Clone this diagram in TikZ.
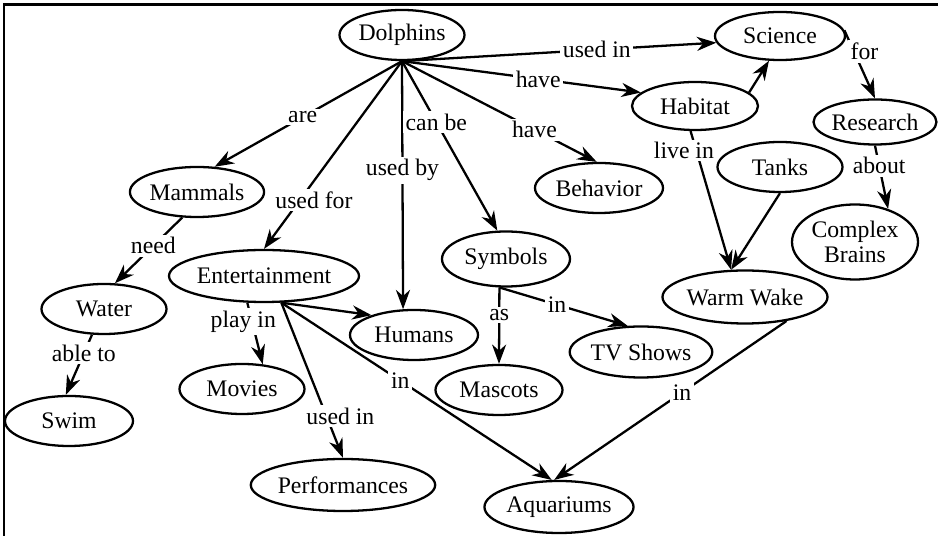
\documentclass[tikz,border=0pt]{standalone}
\usepackage{fontspec}
\setmainfont{Liberation Serif}
\usetikzlibrary{shapes.geometric,arrows.meta}

\begin{document}
\begin{tikzpicture}
  [x=0.02cm, y=-0.02cm,
   font=\fontsize{13.5}{14}\selectfont,
   concept/.style 2 args={draw, ellipse, line width=1.3pt, inner sep=0pt,
     minimum width={#1*0.02cm}, minimum height={#2*0.02cm}, align=center},
   link/.style={line width=1.3pt, -{Stealth[length=11pt, width=8pt, inset=3.5pt]}},
   plain/.style={line width=1.3pt},
   lbl/.style={fill=white, inner sep=1.5pt}]

  \useasboundingbox (0,0) rectangle (938,536);
  \draw [line width=1.7pt] (4,536) -- (4,5) -- (938,5);

  % concepts
  \node [concept={125}{50}] (dolphins) at (402,35) {Dolphins};
  \node [concept={130}{48}] (science) at (780,36) {Science};
  \node [concept={126}{48}] (habitat) at (695,106) {Habitat};
  \node [concept={107}{45}] (research) at (875,122) {Research};
  \node [concept={125}{50}] (tanks) at (780,167) {Tanks};
  \node [concept={128}{50}] (behavior) at (599,188) {Behavior};
  \node [concept={126}{75}] (complexBrains) at (855,242) {Complex\\Brains};
  \node [concept={128}{55}] (symbols) at (506,259) {Symbols};
  \node [concept={125}{50}] (mammals) at (197,192) {Mammals};
  \node [concept={162}{52}] (entertainment) at (264,276) {Entertainment};
  \node [concept={125}{50}] (water) at (104,309) {Water};
  \node [concept={128}{50}] (humans) at (414,335) {Humans};
  \node [concept={125}{50}] (movies) at (242,389) {Movies};
  \node [concept={128}{50}] (swim) at (69,421) {Swim};
  \node [concept={157}{52}] (performances) at (343,485) {Performances};
  \node [concept={127}{50}] (mascots) at (499,390) {Mascots};
  \node [concept={127}{51}] (tvShows) at (641,352) {TV Shows};
  \node [concept={129}{53}] (warmWake) at (745,297) {Warm Wake};
  \node [concept={128}{52}] (aquariums) at (559,507) {Aquariums};

  % links out of Dolphins
  \draw [link] (dolphins.south) -- node [lbl, pos=.53] (lAre) {are} (mammals.55);
  \draw [link] (dolphins.south) -- node [lbl, pos=.74, xshift=8pt] (lUsedFor) {used for} (entertainment.north);
  \draw [link] (dolphins.south) -- node [lbl, pos=.44] (lUsedBy) {used by} (humans.113);
  \draw [link] (dolphins.south) -- node [lbl, pos=.36] (lCanBe) {can be} (symbols.107);
  \draw [link] (dolphins.south) -- node [lbl, pos=.68] (lHaveB) {have} (behavior.95);
  \draw [link] (dolphins.south) -- node [lbl, pos=.57] (lHaveH) {have} (habitat.166);
  \draw [link] (dolphins.south) -- node [lbl, pos=.62] (lUsedInS) {used in} (science.186);

  % right side
  \draw [link] (habitat.14) -- (science.246);
  \draw [link] (science.5) -- node [lbl, pos=.31, xshift=6pt] (lFor) {for} (research.north);
  \draw [link] (research.south) -- node [lbl, pos=.32] (lAbout) {about} (complexBrains.45);
  \draw [link] (habitat.260) -- node [lbl, pos=.14, xshift=-7pt] (lLiveIn) {live in} (warmWake.117);
  \draw [link] (tanks.south) -- (warmWake.117);
  \draw [link] (warmWake.330) -- node [lbl, pos=.45] (lInW) {in} (aquariums.100);

  % left side
  \draw [link] (mammals.240) -- node [lbl, pos=.43] (lNeed) {need} (water.67);
  \draw [link] (water.245) -- node [lbl, pos=.31] (lAbleTo) {able to} (swim.97);
  \draw [link] (entertainment.303) -- (humans.155);
  \draw [link] (entertainment.238) -- node [lbl, pos=.31, xshift=-5pt] (lPlayIn) {play in} (movies.50);
  \draw [link] (entertainment.303) -- node [lbl, pos=.73, xshift=8pt] (lUsedInP) {used in} (performances.north);
  \draw [link] (entertainment.303) -- node [lbl, pos=.44] (lInE) {in} (aquariums.105);

  % symbols
  \draw [link] (symbols.257) -- node [lbl, pos=.36] (lAs) {as} (mascots.north);
  \draw [link] (symbols.257) -- node [lbl, pos=.45] (lInS) {in} (tvShows.117);

\end{tikzpicture}
\end{document}
